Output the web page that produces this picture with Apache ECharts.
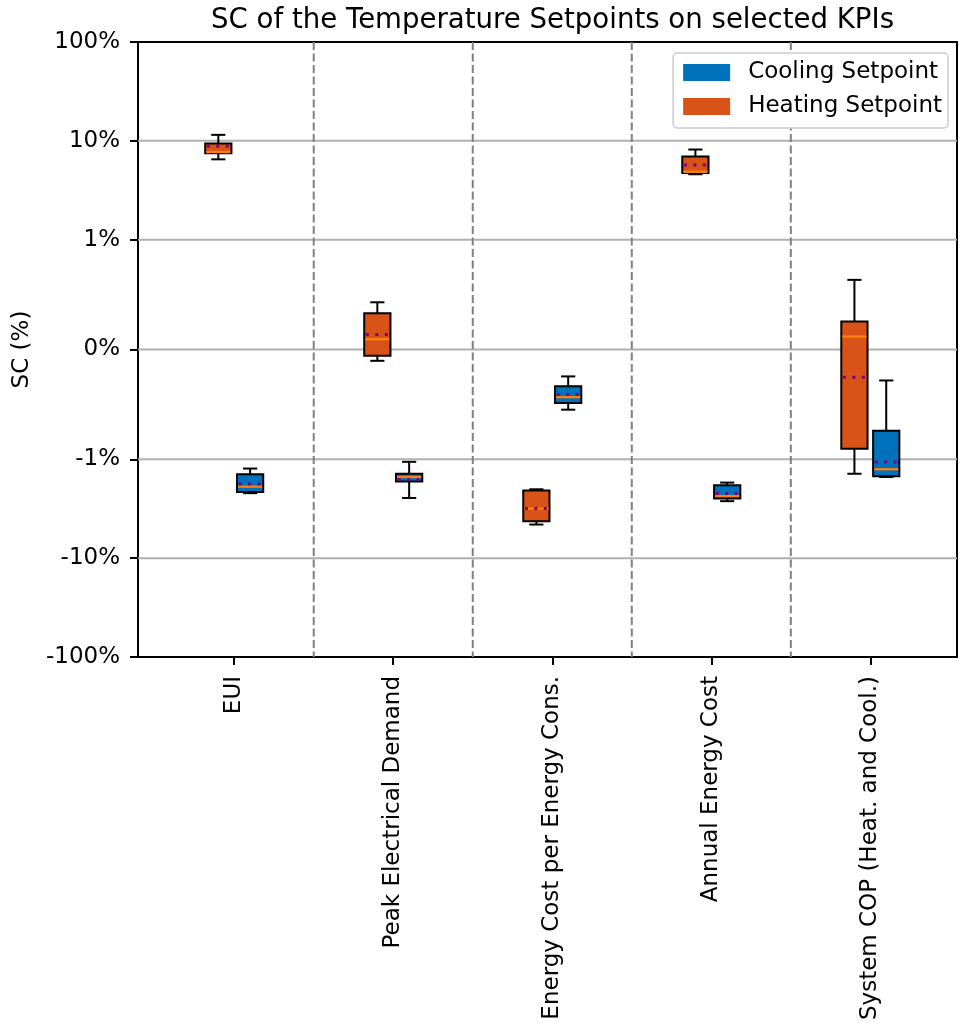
<!DOCTYPE html>
<html>
<head>
<meta charset="utf-8">
<script src="https://cdn.jsdelivr.net/npm/echarts@6/dist/echarts.min.js"></script>
<style>
html,body{margin:0;padding:0;background:#fff;}
#chart{width:971px;height:1025px;}
</style>
</head>
<body>
<div id="chart"></div>
<script>
// ---- Data (values in %) ----
const categories = ['EUI', 'Peak Electrical Demand', 'Energy Cost per Energy Cons.', 'Annual Energy Cost', 'System COP (Heat. and Cool.)'];
// [lower whisker, Q1, median, Q3, upper whisker]
const heatingBox = [
  [6.5, 7.5, 7.7, 9.4, 11.5],
  [-0.103, -0.057, 0.094, 0.33, 0.43],
  [-4.57, -4.23, -3.15, -2.07, -2.01],
  [4.59, 4.72, 4.86, 6.95, 8.17],
  [-1.40, -0.903, 0.118, 0.255, 0.634]
];
const heatingMean = [8.8, 0.136, -3.15, 5.69, -0.252];
const coolingBox = [
  [-2.2, -2.14, -1.89, -1.42, -1.24],
  [-2.46, -1.68, -1.51, -1.40, -1.06],
  [-0.548, -0.488, -0.434, -0.334, -0.245],
  [-2.65, -2.49, -2.35, -1.83, -1.72],
  [-1.51, -1.48, -1.26, -0.739, -0.282]
];
const coolingMean = [-1.78, -1.60, -0.41, -2.22, -1.065];
const yTickValues = [-100, -10, -1, 0, 1, 10, 100];
const yTickLabels = ['-100%', '-10%', '-1%', '0%', '1%', '10%', '100%'];

// ---- symlog transform (linthresh = 1, linscale = 1, base 10) ----
const LINSCALE_ADJ = 1 / (1 - 1 / 10);
function symlog(v) {
  const a = Math.abs(v);
  if (a <= 1) return v * LINSCALE_ADJ;
  return Math.sign(v) * (LINSCALE_ADJ + Math.log10(a));
}
const yMax = symlog(100), yMin = symlog(-100);
const tickPos = yTickValues.map(symlog);
const catPos = categories.map((c, i) => i);
const sepPos = categories.slice(1).map((c, i) => i + 0.5);

const COOL = '#0072BD', HEAT = '#D95319', MEDIAN = '#FF7F0E', MEAN = '#800080';

function boxSeries(name, color, boxes, means, offset) {
  return {
    type: 'custom',
    name: name,
    itemStyle: { color: color },
    z: 5,
    data: boxes.map((b, i) => [i].concat(b.map(symlog), [symlog(means[i])])),
    encode: { x: 0, y: [1, 2, 3, 4, 5, 6] },
    renderItem: function (params, api) {
      const i = api.value(0);
      const unit = api.size([1, 0])[0];
      const cx = api.coord([i + offset, 0])[0];
      const Y = k => api.coord([i, api.value(k)])[1];
      const w = 0.165 * unit, cw = w * 0.54;
      const yLo = Y(1), yQ1 = Y(2), yMed = Y(3), yQ3 = Y(4), yHi = Y(5), yMean = Y(6);
      const blk = { stroke: '#000', lineWidth: 2 };
      return {
        type: 'group',
        children: [
          { type: 'line', shape: { x1: cx, y1: yQ3, x2: cx, y2: yHi }, style: blk },
          { type: 'line', shape: { x1: cx, y1: yQ1, x2: cx, y2: yLo }, style: blk },
          { type: 'line', shape: { x1: cx - cw / 2, y1: yHi, x2: cx + cw / 2, y2: yHi }, style: blk },
          { type: 'line', shape: { x1: cx - cw / 2, y1: yLo, x2: cx + cw / 2, y2: yLo }, style: blk },
          { type: 'rect', shape: { x: cx - w / 2, y: yQ3, width: w, height: yQ1 - yQ3 },
            style: { fill: color, stroke: '#000', lineWidth: 2 } },
          { type: 'line', shape: { x1: cx - w / 2 + 1, y1: yMed, x2: cx + w / 2 - 1, y2: yMed },
            style: { stroke: MEDIAN, lineWidth: 2.3 } },
          { type: 'line', shape: { x1: cx - w / 2 + 1.7, y1: yMean, x2: cx + w / 2 - 1, y2: yMean },
            style: { stroke: MEAN, lineWidth: 3, lineDash: [3, 6.4] } }
        ]
      };
    }
  };
}

const chart = echarts.init(document.getElementById('chart'), null, { renderer: 'canvas' });
const FONT = 'DejaVu Sans';
const FS = 23;
chart.setOption({
  animation: false,
  backgroundColor: '#fff',
  textStyle: { fontFamily: FONT },
  title: {
    text: 'SC of the Temperature Setpoints on selected KPIs',
    left: 547.5, top: 2, textAlign: 'center',
    textStyle: { fontFamily: FONT, fontSize: 27.6, fontWeight: 'normal', color: '#000' }
  },
  legend: {
    orient: 'vertical', right: 23, top: 53,
    data: ['Cooling Setpoint', 'Heating Setpoint'],
    icon: 'rect', itemWidth: 47, itemHeight: 17, itemGap: 11,
    backgroundColor: '#fff', borderColor: '#cccccc', borderWidth: 1.5, borderRadius: 4,
    padding: [8, 6, 10, 10],
    textStyle: { fontFamily: FONT, fontSize: FS, lineHeight: FS, color: '#000', padding: [0, 0, 0, 13] }
  },
  grid: { left: 138, right: 14, top: 42, bottom: 368, show: true, borderColor: '#000', borderWidth: 2, containLabel: false },
  xAxis: {
    type: 'value', min: -0.605, max: 4.545,
    axisLine: { show: true, onZero: false, lineStyle: { color: '#000', width: 2 } },
    axisTick: { show: true, customValues: catPos, length: 8, lineStyle: { color: '#000', width: 2 } },
    axisLabel: {
      customValues: catPos, rotate: 90, fontFamily: FONT, fontSize: FS, color: '#000', margin: 19,
      formatter: function (v) { return categories[Math.round(v)]; }
    },
    splitLine: { show: false }
  },
  yAxis: {
    type: 'value', min: yMin, max: yMax,
    name: 'SC (%)', nameLocation: 'middle', nameGap: 104, nameRotate: 90,
    nameTextStyle: { fontFamily: FONT, fontSize: FS, color: '#000' },
    axisLine: { show: true, onZero: false, lineStyle: { color: '#000', width: 2 } },
    axisTick: { show: true, length: 8, customValues: tickPos, lineStyle: { color: '#000', width: 2 } },
    axisLabel: {
      customValues: tickPos, fontFamily: FONT, fontSize: FS, color: '#000', margin: 18,
      formatter: function (v) {
        let best = 0;
        tickPos.forEach((p, k) => { if (Math.abs(p - v) < Math.abs(tickPos[best] - v)) best = k; });
        return yTickLabels[best];
      }
    },
    splitLine: { show: false }
  },
  series: [
    {
      type: 'custom', name: 'gridlines', silent: true, z: 1,
      data: tickPos.slice(1, -1).map(t => [0, t]),
      encode: { x: 0, y: 1 },
      renderItem: function (params, api) {
        const cs = params.coordSys;
        const y = api.coord([0, api.value(1)])[1];
        return { type: 'line', shape: { x1: cs.x, y1: y, x2: cs.x + cs.width, y2: y },
          style: { stroke: '#b0b0b0', lineWidth: 2 } };
      }
    },
    {
      type: 'custom', name: 'separators', silent: true, z: 1,
      data: sepPos.map(p => [p, 0]),
      encode: { x: 0, y: 1 },
      renderItem: function (params, api) {
        const cs = params.coordSys;
        const x = api.coord([api.value(0), 0])[0];
        return { type: 'line', shape: { x1: x, y1: cs.y, x2: x, y2: cs.y + cs.height },
          style: { stroke: '#808080', lineWidth: 2, lineDash: [8, 3.5] } };
      }
    },
    boxSeries('Heating Setpoint', HEAT, heatingBox, heatingMean, -0.1),
    boxSeries('Cooling Setpoint', COOL, coolingBox, coolingMean, 0.1)
  ]
});
</script>
</body>
</html>
